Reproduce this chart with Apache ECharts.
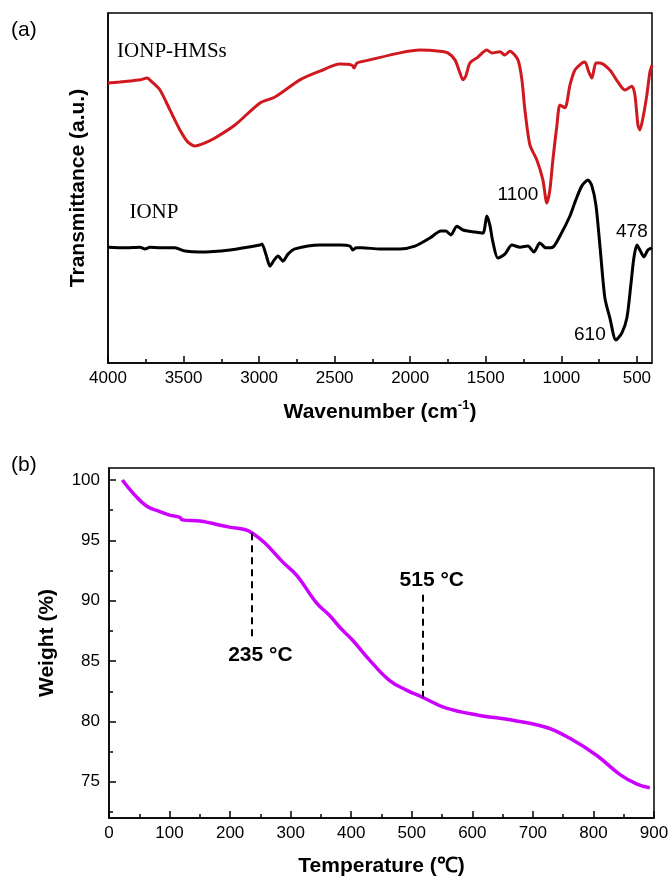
<!DOCTYPE html>
<html lang="en" style="height: 100%">
<head>
  <meta charset="utf-8">
</head>
<body style="height: 100%; margin: 0">
<div id="container" style="width: 672px; height: 880px"></div>
<script type="text/javascript" src="https://cdn.jsdelivr.net/npm/echarts@6.0.0/dist/echarts.min.js"></script>
<script type="text/javascript">
// (a) FTIR spectra, transmittance in arbitrary units (0-100)
var hmsWave = [4000, 3921, 3854, 3788, 3742, 3709, 3656, 3590, 3524, 3471, 3424, 3358, 3292, 3160, 2994, 2895, 2730, 2597, 2465, 2386, 2372, 2353, 2267, 2068, 1936, 1804, 1751, 1704, 1671, 1651, 1632, 1605, 1552, 1493, 1460, 1407, 1374, 1340, 1287, 1261, 1241, 1208, 1162, 1122, 1096, 1076, 1056, 1029, 1009, 976, 943, 910, 864, 844, 818, 798, 771, 745, 679, 626, 580, 533, 513, 493, 480, 460, 434, 414, 400];
var hmsT = [80.0, 80.3, 80.6, 80.9, 81.4, 80.3, 78.0, 72.3, 66.6, 63.1, 62.0, 62.9, 64.3, 68.0, 74.3, 76.0, 80.9, 83.4, 85.4, 85.1, 84.3, 85.7, 86.6, 88.6, 89.4, 89.1, 88.6, 86.6, 82.9, 80.9, 82.0, 85.7, 87.4, 89.4, 88.6, 88.9, 88.0, 89.1, 86.6, 80.9, 72.3, 62.3, 58.0, 52.3, 45.7, 49.4, 58.0, 68.0, 73.7, 72.9, 79.4, 83.7, 85.7, 86.0, 83.1, 81.4, 85.7, 85.7, 83.7, 80.3, 78.0, 79.1, 76.6, 68.0, 66.6, 70.0, 76.6, 83.1, 85.1];
var ionpWave = [4000, 3888, 3788, 3755, 3722, 3656, 3557, 3491, 3391, 3193, 2994, 2981, 2954, 2928, 2901, 2875, 2842, 2809, 2763, 2597, 2465, 2399, 2379, 2359, 2320, 2200, 2068, 1969, 1870, 1797, 1764, 1731, 1691, 1651, 1572, 1519, 1493, 1473, 1453, 1420, 1374, 1327, 1274, 1221, 1182, 1142, 1102, 1056, 1009, 943, 904, 864, 824, 798, 771, 745, 712, 679, 639, 599, 566, 540, 520, 500, 480, 454, 427, 400];
var ionpT = [33.1, 32.9, 33.1, 32.6, 33.1, 32.9, 32.9, 32.0, 31.7, 32.3, 33.7, 34.0, 30.9, 27.7, 29.4, 30.6, 29.1, 31.1, 32.6, 33.7, 33.7, 33.4, 32.3, 32.9, 32.9, 32.6, 32.6, 33.4, 35.7, 37.7, 37.7, 36.6, 39.1, 38.0, 37.4, 37.1, 42.0, 39.4, 34.6, 30.0, 31.1, 33.7, 33.1, 33.4, 31.7, 34.3, 32.9, 33.1, 36.3, 42.0, 46.6, 50.6, 52.3, 50.6, 45.1, 33.7, 18.6, 12.9, 6.6, 8.6, 12.9, 22.3, 30.0, 33.7, 32.3, 30.3, 32.3, 32.9];
var irTicks = [4000, 3500, 3000, 2500, 2000, 1500, 1000, 500];
var irMinor = [3750, 3250, 2750, 2250, 1750, 1250, 750];
var sampleNames = [['IONP-HMSs', 3577, 88.9], ['IONP', 3696, 42.9]];
var peakNames = [['1100', 1287, 48.0], ['478', 533, 37.4], ['610', 811, 8.0]];

// (b) TGA
var tgaTemp = [22, 40, 62, 83, 100, 117, 121, 150, 199, 224, 237, 257, 287, 310, 343, 364, 381, 402, 430, 463, 491, 518, 557, 612, 667, 723, 761, 805, 844, 872, 893];
var tgaWeight = [100, 98.9, 97.85, 97.4, 97.1, 96.9, 96.7, 96.6, 96.1, 95.9, 95.6, 94.8, 93.2, 92.1, 89.8, 88.8, 87.8, 86.75, 85.1, 83.4, 82.6, 82.0, 81.1, 80.5, 80.1, 79.5, 78.6, 77.2, 75.6, 74.8, 74.5];
var wTicks = [75, 80, 85, 90, 95, 100];
var wMinor = [72.5, 77.5, 82.5, 87.5, 92.5, 97.5];
var stepTemps = [[235, 95.6, 87.0], [518, 90.5, 82.0]];
var stepNames = [['235 °C', 250, 85.5], ['515 °C', 533, 91.7]];

var sans = 'Liberation Sans, Arial, sans-serif';
var serif = 'Liberation Serif, Times New Roman, serif';
var black = '#000';

function pairs(xs, ys) {
  return xs.map(function (x, i) { return [x, ys[i]]; });
}
function plain(v) {
  return String(v);
}

var dom = document.getElementById('container');
var myChart = echarts.init(dom, null, { renderer: 'canvas' });

var axisLine = { show: true, lineStyle: { color: black, width: 1.5 } };
var nameStyle = { fontFamily: sans, fontSize: 21, fontWeight: 'bold', color: black };
var tickLabel = { fontFamily: sans, fontSize: 17, color: black, margin: 7, formatter: plain };

var option = {
  animation: false,
  title: [
    { text: '(a)', left: 11, top: 20, padding: 0, textStyle: { fontFamily: sans, fontSize: 21, fontWeight: 'normal', color: black } },
    { text: '(b)', left: 11, top: 455, padding: 0, textStyle: { fontFamily: sans, fontSize: 21, fontWeight: 'normal', color: black } }
  ],
  grid: [
    { left: 108, top: 13, width: 544, height: 350, show: true, borderColor: black, borderWidth: 1.5 },
    { left: 109, top: 468, width: 545, height: 350, show: true, borderColor: black, borderWidth: 1.5 }
  ],
  xAxis: [
    {
      gridIndex: 0, type: 'value', position: 'bottom', min: 400, max: 4000, inverse: true,
      name: 'Wavenumber (cm{sup|-1})', nameLocation: 'middle', nameGap: 36,
      nameTextStyle: {
        fontFamily: sans, fontSize: 21, fontWeight: 'bold', color: black,
        rich: { sup: { fontFamily: sans, fontSize: 13, fontWeight: 'bold', color: black, padding: [0, 0, 14, 0] } }
      },
      axisLine: axisLine,
      axisTick: { inside: true, length: 7, lineStyle: { color: black, width: 1.5 }, customValues: irTicks },
      axisLabel: Object.assign({ customValues: irTicks }, tickLabel),
      splitLine: { show: false }
    },
    {
      gridIndex: 0, type: 'value', position: 'bottom', min: 400, max: 4000, inverse: true,
      axisLine: { show: false },
      axisTick: { inside: true, length: 4, lineStyle: { color: black, width: 1.5 }, customValues: irMinor },
      axisLabel: { show: false },
      splitLine: { show: false }
    },
    {
      gridIndex: 1, type: 'value', position: 'bottom', min: 0, max: 900, interval: 100,
      name: 'Temperature (℃)', nameLocation: 'middle', nameGap: 38, nameTextStyle: nameStyle,
      axisLine: axisLine,
      axisTick: { inside: true, length: 7, lineStyle: { color: black, width: 1.5 } },
      minorTick: { show: true, splitNumber: 2, length: 4, lineStyle: { color: black, width: 1.5 } },
      axisLabel: tickLabel,
      splitLine: { show: false }
    }
  ],
  yAxis: [
    {
      gridIndex: 0, type: 'value', position: 'left', min: 0, max: 100,
      name: 'Transmittance (a.u.)', nameLocation: 'middle', nameGap: 19, nameTextStyle: nameStyle,
      axisLine: axisLine,
      axisTick: { show: false },
      axisLabel: { show: false },
      splitLine: { show: false }
    },
    {
      gridIndex: 1, type: 'value', position: 'left', min: 72, max: 101,
      name: 'Weight (%)', nameLocation: 'middle', nameGap: 51, nameTextStyle: nameStyle,
      axisLine: axisLine,
      axisTick: { inside: true, length: 7, lineStyle: { color: black, width: 1.5 }, customValues: wTicks },
      axisLabel: Object.assign({ customValues: wTicks }, tickLabel, { margin: 9 }),
      splitLine: { show: false }
    },
    {
      gridIndex: 1, type: 'value', position: 'left', min: 72, max: 101,
      axisLine: { show: false },
      axisTick: { inside: true, length: 4, lineStyle: { color: black, width: 1.5 }, customValues: wMinor },
      axisLabel: { show: false },
      splitLine: { show: false }
    }
  ],
  series: [
    {
      name: 'IONP-HMSs', type: 'line', xAxisIndex: 0, yAxisIndex: 0,
      data: pairs(hmsWave, hmsT), showSymbol: false, smooth: 0.25,
      lineStyle: { color: '#d0191f', width: 3 }
    },
    {
      name: 'IONP', type: 'line', xAxisIndex: 0, yAxisIndex: 0,
      data: pairs(ionpWave, ionpT), showSymbol: false, smooth: 0.25,
      lineStyle: { color: black, width: 3 }
    },
    {
      name: 'TGA', type: 'line', xAxisIndex: 2, yAxisIndex: 1,
      data: pairs(tgaTemp, tgaWeight), showSymbol: false, smooth: 0.4,
      lineStyle: { color: '#cc00ff', width: 3.5 },
      markLine: {
        silent: true, symbol: 'none', label: { show: false },
        lineStyle: { color: black, width: 2, type: [7, 5] },
        data: stepTemps.map(function (d) { return [{ coord: [d[0], d[1]] }, { coord: [d[0], d[2]] }]; })
      }
    }
  ]
};

myChart.setOption(option);

// annotation text, placed at data coordinates through the axes
function notes(list, finder, font, weight, size) {
  return list.map(function (d) {
    var p = myChart.convertToPixel(finder, [d[1], d[2]]);
    return {
      type: 'text', x: p[0], y: p[1], silent: true,
      style: {
        text: d[0], fill: black, align: 'center', verticalAlign: 'middle',
        fontFamily: font, fontSize: size, fontWeight: weight
      }
    };
  });
}
var topAxes = { xAxisIndex: 0, yAxisIndex: 0 };
var tgaAxes = { xAxisIndex: 2, yAxisIndex: 1 };
myChart.setOption({
  graphic: [].concat(
    notes(sampleNames, topAxes, serif, 'normal', 21),
    notes(peakNames, topAxes, sans, 'normal', 19),
    notes(stepNames, tgaAxes, 'Liberation Sans Narrow, ' + sans, 'bold', 21)
  )
});
window.addEventListener('resize', myChart.resize);
</script>
</body>
</html>
